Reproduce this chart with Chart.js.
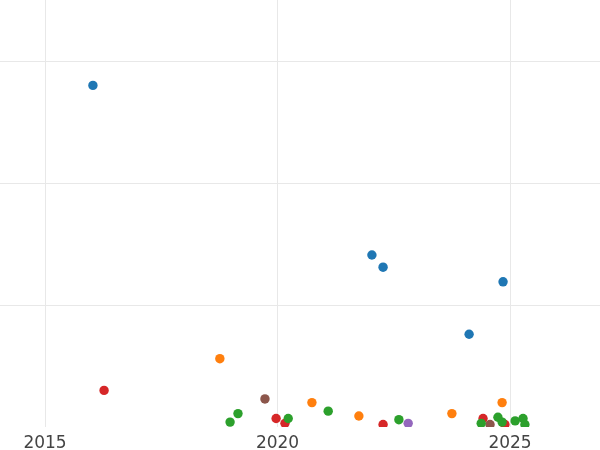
<!DOCTYPE html>
<html>
<head>
<meta charset="utf-8">
<script src="https://cdn.jsdelivr.net/npm/chart.js@4/dist/chart.umd.min.js"></script>
<style>
  body { margin: 0; background: #fff; }
  canvas { display: block; }
</style>
</head>
<body>
<canvas id="myChart" width="600" height="450"></canvas>
<script>
// ticks shown on the axes (y labels are hidden, only grid lines)
var xTicks = [2015, 2020, 2025];
var yTicks = [1, 2, 3];

// each series: years and values
var blueX = [2016.03, 2022.03, 2022.27, 2024.85, 2024.12];
var blueY = [2.80, 1.41, 1.31, 1.19, 0.76];

var orangeX = [2018.76, 2020.74, 2021.75, 2023.75, 2024.83];
var orangeY = [0.56, 0.20, 0.09, 0.11, 0.20];

var greenX = [2018.98, 2019.15, 2020.23, 2021.09, 2022.61, 2024.38, 2024.74, 2024.83, 2025.11, 2025.28, 2025.32];
var greenY = [0.04, 0.11, 0.07, 0.13, 0.06, 0.03, 0.08, 0.04, 0.05, 0.07, 0.02];

var redX = [2016.27, 2019.97, 2020.16, 2022.27, 2024.42, 2024.89];
var redY = [0.30, 0.07, 0.03, 0.02, 0.07, 0.02];

var purpleX = [2022.81];
var purpleY = [0.03];

var brownX = [2019.73, 2024.57];
var brownY = [0.23, 0.02];

function toPoints(xs, ys) {
  return xs.map(function (x, i) {
    return { x: x, y: ys[i] };
  });
}

function series(label, xs, ys, color) {
  return {
    label: label,
    data: toPoints(xs, ys),
    backgroundColor: color,
    borderColor: color,
    borderWidth: 0,
    pointRadius: 4.7,
    pointHoverRadius: 4.7,
    clip: 0,
  };
}

new Chart("myChart", {
  type: "scatter",
  data: {
    datasets: [
      series("blue", blueX, blueY, "#1f77b4"),
      series("orange", orangeX, orangeY, "#ff7f0e"),
      series("green", greenX, greenY, "#2ca02c"),
      series("red", redX, redY, "#d62728"),
      series("purple", purpleX, purpleY, "#9467bd"),
      series("brown", brownX, brownY, "#8c564b"),
    ],
  },
  options: {
    responsive: false,
    animation: false,
    layout: { padding: 0, autoPadding: false },
    plugins: {
      legend: { display: false },
      tooltip: { enabled: false },
    },
    scales: {
      x: {
        type: "linear",
        min: 2014.032,
        max: 2026.935,
        afterBuildTicks: function (axis) {
          axis.ticks = xTicks.map(function (v) {
            return { value: v };
          });
        },
        afterFit: function (axis) {
          axis.height = 23;
        },
        grid: { color: "#e8e8e8", lineWidth: 1, drawTicks: false },
        border: { display: false },
        ticks: {
          padding: 8,
          color: "#444",
          font: { family: "DejaVu Sans", size: 17, lineHeight: 1 },
          maxRotation: 0,
          callback: function (v) {
            return String(v);
          },
        },
      },
      y: {
        min: 0,
        max: 3.5,
        afterBuildTicks: function (axis) {
          axis.ticks = yTicks.map(function (v) {
            return { value: v };
          });
        },
        ticks: { display: false },
        grid: { drawTicks: false, lineWidth: 1, color: "#e8e8e8" },
        border: { display: false },
      },
    },
  },
});
</script>
</body>
</html>
